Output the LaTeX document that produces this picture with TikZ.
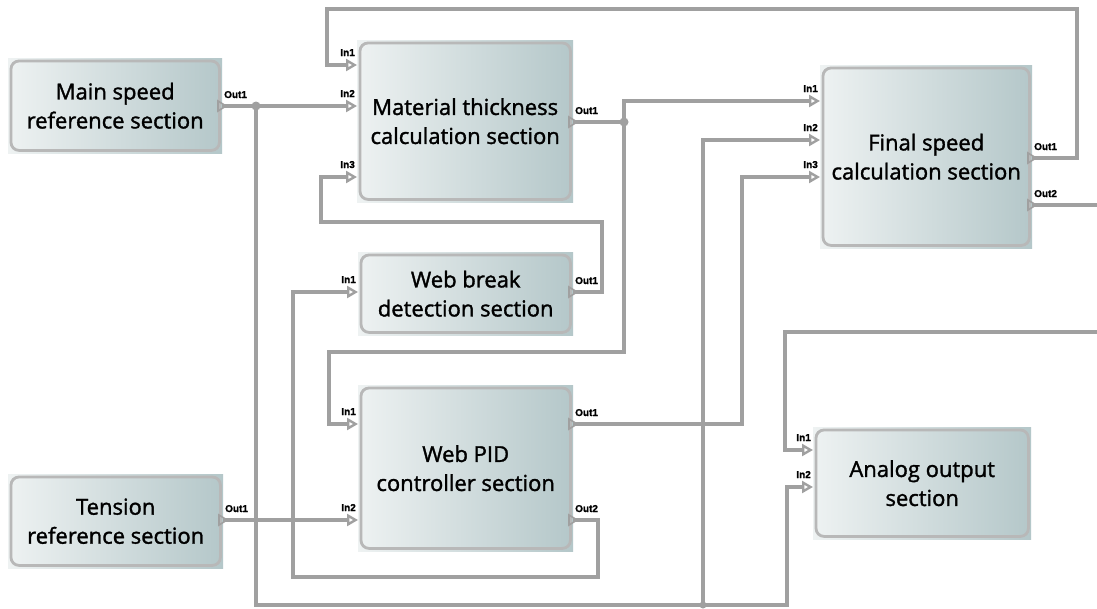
\documentclass[tikz,border=0pt]{standalone}
\usepackage{fontspec}
\setmainfont{Open Sans}
\newfontfamily\blkfont[FakeBold=1.5]{Open Sans}
\newfontfamily\portfont[FakeBold=1]{Liberation Sans}
\usetikzlibrary{arrows.meta}
\definecolor{wirec}{HTML}{A0A0A0}
\definecolor{bordc}{HTML}{B8B8B8}
\definecolor{shl}{HTML}{EEF2F2}
\definecolor{shr}{HTML}{B4C7C9}
\tikzset{
  block/.style={anchor=north west, inner sep=0pt, left color=shl, right color=shr,
    draw=none, align=center, font=\blkfont\fontsize{22}{29}\selectfont, text=black},
  bord/.style={draw=bordc, line width=2.8pt, rounded corners=8pt},
  wire/.style={draw=wirec, line width=3.6pt, line join=miter},
  toport/.style={-{Triangle[open,length=11pt,width=12pt,line width=2.4pt]}},
  outtri/.style={draw=wirec, line width=1.6pt, line join=miter},
  portlab/.style={font=\portfont\bfseries\fontsize{10}{11}\selectfont, inner sep=0pt, text=black},
  jdot/.style={fill=wirec}
}
\newcommand\blk[6]{%
  \node[block, minimum width=#4pt, minimum height=#5pt] (#1) at (#2,#3) {#6};
  \draw[bord] ([xshift=3pt,yshift=-3pt]#1.north west) rectangle ([xshift=-3pt,yshift=3pt]#1.south east);
}
\newcommand\inport[4]{% name, x, y, label
  \coordinate (#1) at (#2,#3);
  \node[portlab, anchor=base east] (#1-lab) at ([xshift=-2pt,yshift=9pt]#1) {#4};
}
\newcommand\outport[4]{% name, x, y, label
  \coordinate (#1) at (#2,#3);
  \draw[outtri] ([xshift=-4pt,yshift=5pt]#1) -- ([xshift=4pt]#1) -- ([xshift=-4pt,yshift=-5pt]#1) -- cycle;
  \node[portlab, anchor=base west] (#1-lab) at ([xshift=2pt,yshift=8pt]#1) {#4};
}
\begin{document}
\begin{tikzpicture}[x=1pt,y=-1pt]
\useasboundingbox[fill=white] (0,0) rectangle (1097,608);

% blocks
\blk{main}{8}{58}{214}{95}{Main speed\\reference section}
\blk{tension}{8}{474}{215}{94}{Tension\\reference section}
\blk{mt}{357}{40}{216}{162}{Material thickness\\calculation section}
\blk{wb}{358}{252}{215}{83}{Web break\\detection section}
\blk{pid}{358}{385}{215}{166}{Web PID\\controller section}
\blk{final}{820}{65}{212}{183}{Final speed\\calculation section}
\blk{analog}{813}{427}{218}{112}{Analog output\\section}

% ports
\inport{mt-i1}{357}{65}{In1}
\inport{mt-i2}{357}{106}{In2}
\inport{mt-i3}{357}{177}{In3}
\inport{fs-i1}{820}{101}{In1}
\inport{fs-i2}{820}{140}{In2}
\inport{fs-i3}{820}{177}{In3}
\inport{wb-i1}{358}{292}{In1}
\inport{pid-i1}{358}{424}{In1}
\inport{pid-i2}{358}{520}{In2}
\inport{ao-i1}{813}{450}{In1}
\inport{ao-i2}{813}{487}{In2}

% junctions and free ends
\coordinate (j1) at (256,106);
\coordinate (j2) at (624,122);
\coordinate (j3) at (703,605);
\coordinate (e1) at (1097,205);
\coordinate (e2) at (1097,332);

% wires
\draw[wire] (main.east |- j1) -- (j1);
\draw[wire,toport] (j1) -- (mt-i2);
\draw[wire] (j1) -- (256,605) -- (j3);
\draw[wire,toport] (j3) -- (787,605) -- (787,487) -- (ao-i2);
\draw[wire,toport] (j3) -- (703,140) -- (fs-i2);
\draw[wire] (mt.east |- j2) -- (j2);
\draw[wire,toport] (j2) -- (624,101) -- (fs-i1);
\draw[wire,toport] (j2) -- (624,352) -- (329,352) -- (329,424) -- (pid-i1);
\draw[wire,toport] (wb.east |- 0,292) -- (602,292) -- (602,222) -- (321,222) -- (321,177) -- (mt-i3);
\draw[wire,toport] (final.east |- 0,158) -- (1077,158) -- (1077,9) -- (327,9) -- (327,65) -- (mt-i1);
\draw[wire] (final.east |- e1) -- (e1);
\draw[wire,toport] (e2) -- (785,332) -- (785,450) -- (ao-i1);
\draw[wire,toport] (pid.east |- 0,424) -- (742,424) -- (742,177) -- (fs-i3);
\draw[wire,toport] (tension.east |- pid-i2) -- (pid-i2);
\draw[wire,toport] (pid.east |- 0,520) -- (598,520) -- (598,577) -- (293,577) -- (293,292) -- (wb-i1);

% output port triangles and labels
\outport{main-o1}{222}{106}{Out1}
\outport{tension-o1}{223}{520}{Out1}
\outport{mt-o1}{573}{122}{Out1}
\outport{wb-o1}{573}{292}{Out1}
\outport{pid-o1}{573}{424}{Out1}
\outport{pid-o2}{573}{520}{Out2}
\outport{fs-o1}{1032}{158}{Out1}
\outport{fs-o2}{1032}{205}{Out2}

% junction dots
\fill[jdot] (j1) circle (4.5pt);
\fill[jdot] (j2) circle (4.5pt);
\fill[jdot] (j3) circle (3.5pt);
\end{tikzpicture}
\end{document}
